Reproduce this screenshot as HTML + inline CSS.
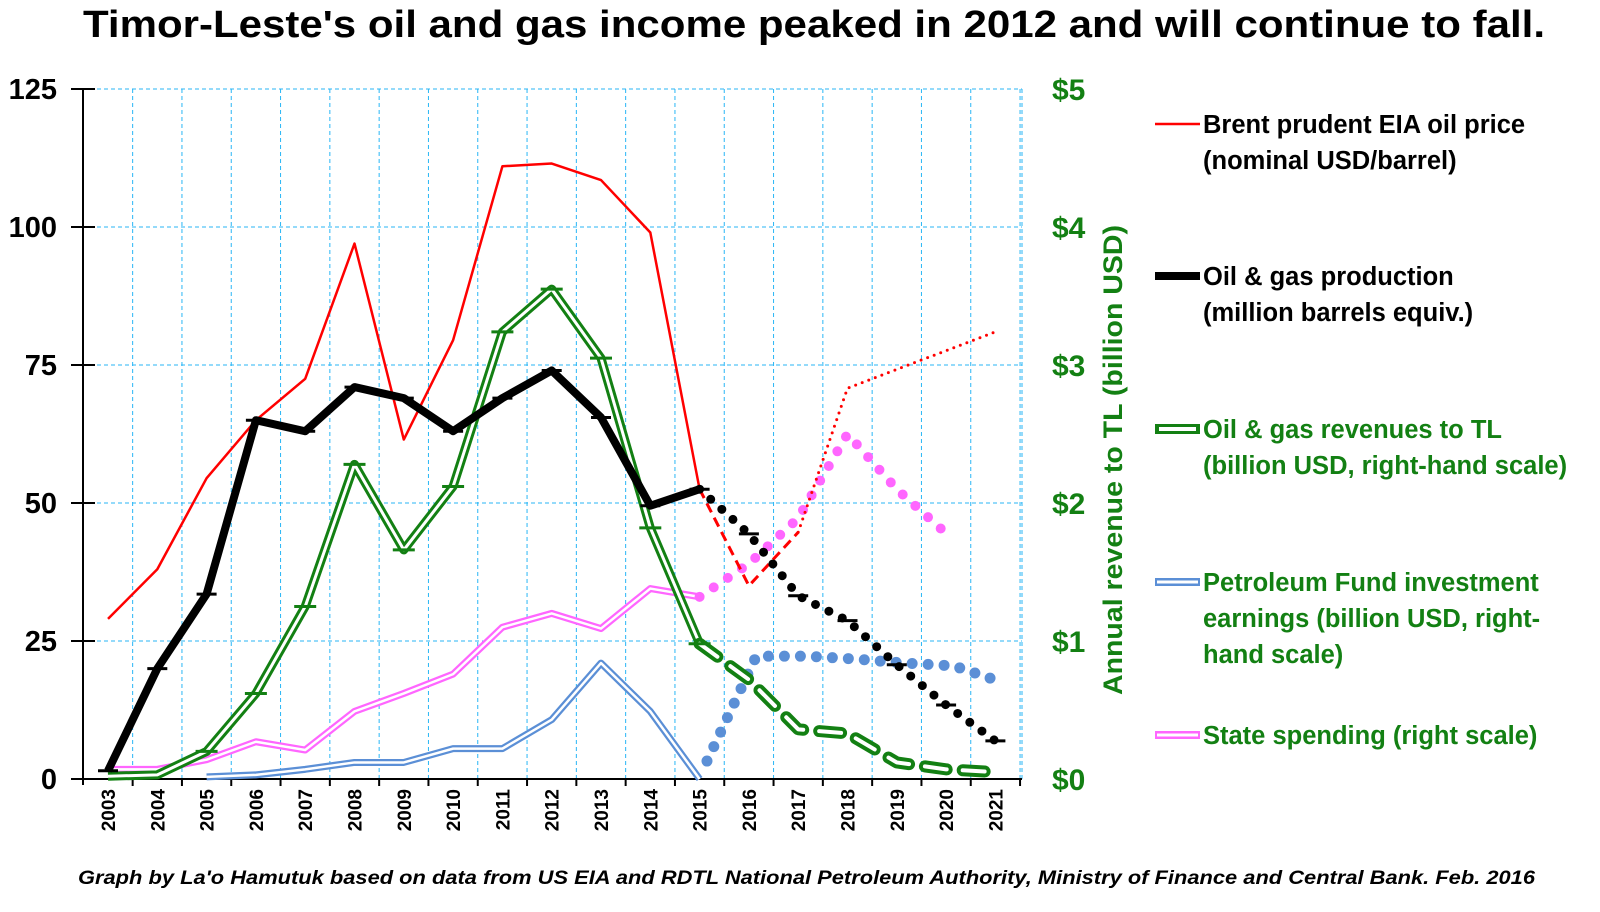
<!DOCTYPE html>
<html><head><meta charset="utf-8"><style>
body{margin:0;background:#fff;}
svg{display:block;font-family:"Liberation Sans","DejaVu Sans",sans-serif;}
.b{font-weight:bold;}
</style></head><body>
<svg id="c" width="1600" height="912" viewBox="0 0 1600 912">
<text x="83" y="37" textLength="1462" lengthAdjust="spacingAndGlyphs" class="b" font-size="38">Timor-Leste's oil and gas income peaked in 2012 and will continue to fall.</text>
<g id="grid"></g>
<g id="axes"></g>
<g id="series"></g>
<text transform="translate(1122,460) rotate(-90)" text-anchor="middle" textLength="470" lengthAdjust="spacingAndGlyphs" class="b" font-size="27" fill="#138013">Annual revenue to TL (billion USD)</text>
<g id="legend"></g>
<text x="78" y="884" textLength="1457" lengthAdjust="spacingAndGlyphs" class="b" font-style="italic" font-size="19">Graph by La'o Hamutuk based on data from US EIA and RDTL National Petroleum Authority, Ministry of Finance and Central Bank.  Feb. 2016</text>
</svg>
<script>
const years=["2003","2004","2005","2006","2007","2008","2009","2010","2011","2012","2013","2014","2015","2016","2017","2018","2019","2020","2021"];
const leftTicks=[0,25,50,75,100,125];
const rightTicks=["$0","$1","$2","$3","$4","$5"];
const brentActual=[29,38,54.5,65,72.5,97,61.5,79.5,111,111.5,108.5,99,52.5];
const brentDashed=[52.5,35,44.7];
const brentDotted=[44.7,70.8,74.2,77.6,81];
const prodActual=[1.5,20,33.5,65,63,71,69,63,69,74,65.5,49.5,52.5];
const prodForecast=[52.5,44.4,33.2,28.7,20.7,13.4,6.9];
const revActual=[0.02,0.03,0.2,0.62,1.25,2.28,1.66,2.12,3.24,3.55,3.05,1.82,0.98];
const revForecast=[0.98,0.72,0.36,0.33,0.12,0.07,0.05];
const pfActual=[null,null,0.015,0.03,0.07,0.12,0.12,0.22,0.22,0.43,0.84,0.49,0];
const pfForecast=[0.13,0.89,0.89,0.87,0.84,0.82,0.70];
const spendActual=[0.07,0.07,0.14,0.27,0.21,0.49,0.62,0.76,1.1,1.2,1.09,1.38,1.32];
const spendForecast=[1.32,1.56,1.89,2.5,2.1,1.78];

const NS="http://www.w3.org/2000/svg";
const X0=83,X1=1022,Y0=779,Y1=89;
const xc=i=>108+i*49.3;
const yL=v=>Y0-(v/125)*(Y0-Y1);
const yR=v=>Y0-(v/5)*(Y0-Y1);
function mk(par,tag,attrs){const e=document.createElementNS(NS,tag);for(const k in attrs)e.setAttribute(k,attrs[k]);document.getElementById(par).appendChild(e);return e;}
function pts(arr,off,fy){const p=[];arr.forEach((v,i)=>{if(v!==null)p.push([xc(i+off),fy(v)]);});return p.map(q=>q.join(',')).join(' ');}
years.forEach((y,i)=>{const gx=xc(i)+24.65;if(gx<X1){const l=mk('grid','line',{x1:gx,y1:Y1,x2:gx,y2:Y0,stroke:'#29b6f6','stroke-width':1,'stroke-dasharray':'4 3'});

}});
leftTicks.forEach(t=>{if(t>0){const l=mk('grid','line',{x1:X0,y1:yL(t),x2:X1,y2:yL(t),stroke:'#29b6f6','stroke-width':1,'stroke-dasharray':'4 3'});

}});
mk('grid','line',{x1:X1,y1:Y1,x2:X1,y2:Y0,stroke:'#29b6f6','stroke-width':1,'stroke-dasharray':'4 3'});
mk('axes','line',{x1:X0,y1:Y1,x2:X0,y2:Y0+6,stroke:'#000','stroke-width':2});
mk('axes','line',{x1:X0-6,y1:Y0,x2:X1,y2:Y0,stroke:'#000','stroke-width':2});
leftTicks.forEach(t=>{mk('axes','line',{x1:X0-12,y1:yL(t),x2:X0+12,y2:yL(t),stroke:'#000','stroke-width':2});
const tx=mk('axes','text',{x:57,y:yL(t)+10,'text-anchor':'end','font-size':29,'font-weight':'bold'});tx.textContent=t;

});
rightTicks.forEach((t,i)=>{const tx=mk('axes','text',{x:1052,y:yR(i)+11,'font-size':30,'font-weight':'bold',fill:'#138013'});tx.textContent=t;

});
years.forEach((y,i)=>{const tx=xc(i)+24.65;if(tx<X1)mk('axes','line',{x1:tx,y1:Y0,x2:tx,y2:Y0+7,stroke:'#000','stroke-width':2});
const t=mk('axes','text',{transform:`translate(${xc(i)+7},${Y0+10}) rotate(-90)`,'text-anchor':'end','font-size':19,'font-weight':'bold'});t.textContent=y;

});
function line(p,a,name){const e=mk('series','polyline',Object.assign({points:p,fill:'none','stroke-linejoin':'round'},a));

return e;}
function dbl(p,col,w,iw,name,extra){line(p,Object.assign({stroke:col,'stroke-width':w},extra||{}),name);line(p,Object.assign({stroke:'#fff','stroke-width':iw},extra||{}),name+'-inner');}
dbl(pts(pfActual,0,yR),'#5b8fd6',7,2.5,'pf-earnings-line');
line(pts(pfForecast,12.15,yR),{stroke:'#5b8fd6','stroke-width':11,'stroke-linecap':'round','stroke-dasharray':'0 16'},'pf-earnings-forecast');
dbl(pts(spendActual,0,yR),'#ff66ff',7,2.5,'state-spending-line');
line(pts(spendForecast,12,yR),{stroke:'#ff66ff','stroke-width':10,'stroke-linecap':'round','stroke-dasharray':'0 17'},'state-spending-forecast');
dbl(pts(revActual,0,yR),'#138013',9,3,'revenue-line');
dbl(pts(revForecast,12,yR),'#138013',12,4,'revenue-forecast',{'stroke-linecap':'round','stroke-dasharray':'22 16'});
revActual.forEach((v,i)=>{if(i>1){const m=mk('series','line',{x1:xc(i)-11,y1:yR(v),x2:xc(i)+11,y2:yR(v),stroke:'#138013','stroke-width':3});

}});
line(pts(brentActual,0,yL),{stroke:'#ff0000','stroke-width':2.5},'brent-price-line');
line(pts(brentDashed,12,yL),{stroke:'#ff0000','stroke-width':3,'stroke-dasharray':'10 6'},'brent-price-dashed');
line(pts(brentDotted,14,yL),{stroke:'#ff0000','stroke-width':3,'stroke-linecap':'round','stroke-dasharray':'0 7'},'brent-price-dotted');
line(pts(prodActual,0,yL),{stroke:'#000','stroke-width':8},'production-line');
line(pts(prodForecast,12,yL),{stroke:'#000','stroke-width':9,'stroke-linecap':'round','stroke-dasharray':'0 15'},'production-forecast');
prodActual.concat(prodForecast.slice(1)).forEach((v,i)=>{const m=mk('series','line',{x1:xc(i)-10,y1:yL(v),x2:xc(i)+10,y2:yL(v),stroke:'#000','stroke-width':3});

});
const LX1=1155,LX2=1200,TX=1203;
function lt(lines,y0,col){lines.forEach((s,k)=>{const t=mk('legend','text',{x:TX,y:y0+k*36,'font-size':25.5,'font-weight':'bold',fill:col});t.textContent=s;

});}
mk('legend','line',{x1:LX1,y1:124,x2:LX2,y2:124,stroke:'#f00','stroke-width':2.5});
lt(['Brent prudent EIA oil price','(nominal USD/barrel)'],133,'#000');
mk('legend','line',{x1:LX1,y1:276,x2:LX2,y2:276,stroke:'#000','stroke-width':8});
lt(['Oil & gas production','(million barrels equiv.)'],285,'#000');
mk('legend','line',{x1:LX1,y1:429,x2:LX2,y2:429,stroke:'#138013','stroke-width':10});
mk('legend','line',{x1:LX1+4,y1:429,x2:LX2-4,y2:429,stroke:'#fff','stroke-width':4});
lt(['Oil & gas revenues to TL','(billion USD, right-hand scale)'],438,'#138013');
mk('legend','line',{x1:LX1,y1:582,x2:LX2,y2:582,stroke:'#5b8fd6','stroke-width':8});
mk('legend','line',{x1:LX1+2,y1:582,x2:LX2-2,y2:582,stroke:'#fff','stroke-width':3});
lt(['Petroleum Fund investment','earnings (billion USD, right-','hand scale)'],591,'#138013');
mk('legend','line',{x1:LX1,y1:735,x2:LX2,y2:735,stroke:'#ff66ff','stroke-width':8});
mk('legend','line',{x1:LX1+2,y1:735,x2:LX2-2,y2:735,stroke:'#fff','stroke-width':3});
lt(['State spending (right scale)'],744,'#138013');
</script>
</body></html>
